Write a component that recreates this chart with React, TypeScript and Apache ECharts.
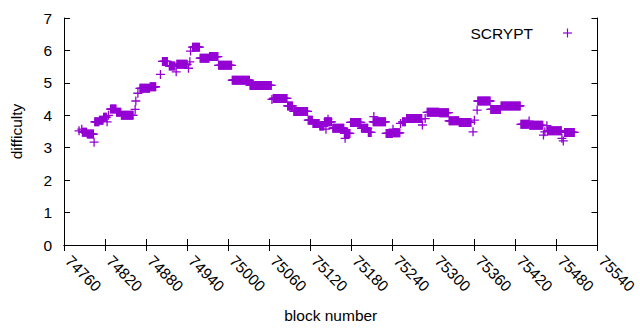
import React, { useEffect, useRef } from "react";
import * as echarts from "echarts";

// Plateaus of constant difficulty: first block, last block, value
const runStart = [
  74782, 74786, 74787, 74794, 74804, 74805, 74812, 74818, 74823, 74825,
  74828, 74837, 74844, 74864, 74865, 74868, 74871, 74886, 74901, 74904,
  74914, 74924, 74925, 74942, 74944, 74945, 74948, 74959, 74973, 74986,
  75006, 75032, 75064, 75066, 75087, 75096, 75117, 75124, 75134, 75141,
  75143, 75146, 75153, 75170, 75171, 75179, 75195, 75205, 75212, 75213,
  75231, 75241, 75242, 75252, 75255, 75261, 75284, 75288, 75291, 75309,
  75323, 75338, 75358, 75360, 75364, 75365, 75384, 75399, 75428, 75440,
  75441, 75461, 75463, 75466, 75467, 75488, 75490, 75492,
];
const runEnd = [
  74782, 74786, 74793, 74803, 74804, 74811, 74817, 74822, 74823, 74825,
  74836, 74843, 74861, 74864, 74865, 74868, 74885, 74894, 74901, 74911,
  74922, 74924, 74940, 74942, 74944, 74945, 74958, 74972, 74985, 75005,
  75031, 75063, 75064, 75086, 75094, 75116, 75123, 75133, 75140, 75151,
  75143, 75146, 75169, 75178, 75171, 75194, 75204, 75209, 75230, 75213,
  75240, 75241, 75251, 75252, 75259, 75283, 75284, 75288, 75308, 75322,
  75337, 75355, 75358, 75360, 75364, 75383, 75398, 75427, 75439, 75440,
  75460, 75461, 75463, 75466, 75487, 75488, 75490, 75506,
];
const runValue = [
  3.52, 3.57, 3.48, 3.42, 3.17, 3.80, 3.85, 3.94, 3.80, 4.00,
  4.19, 4.09, 4.00, 4.18, 4.44, 4.68, 4.83, 4.88, 5.26, 5.66,
  5.52, 5.34, 5.57, 5.45, 5.65, 5.98, 6.10, 5.76, 5.81, 5.54,
  5.08, 4.92, 4.49, 4.52, 4.29, 4.12, 3.85, 3.75, 3.67, 3.80,
  3.57, 3.88, 3.60, 3.44, 3.29, 3.78, 3.60, 3.47, 3.80, 3.96,
  3.44, 3.57, 3.46, 3.75, 3.80, 3.90, 3.70, 3.90, 4.09, 4.08,
  3.83, 3.78, 3.49, 3.85, 4.16, 4.44, 4.18, 4.29, 3.72, 3.82,
  3.69, 3.39, 3.49, 3.68, 3.52, 3.29, 3.21, 3.47,
];

const seriesName = "SCRYPT";
const xMin = 74760;
const xMax = 75540;
const xStep = 60;
const yMin = 0;
const yMax = 7;
const yStep = 1;

const PURPLE = "#9400d3";
const FONT = "'Liberation Sans', Arial, sans-serif";
const FS = 15.5;
const PLUS = "path://M0,3L7,3L7,4L0,4Z M3,0L4,0L4,7L3,7Z";

export default function App() {
  const ref = useRef<HTMLDivElement>(null);

  useEffect(() => {
    if (!ref.current) return;
    const chart = echarts.init(ref.current, null, { renderer: "svg" });

    const points: number[][] = [];
    for (let i = 0; i < runStart.length; i++) {
      for (let b = runStart[i]; b <= runEnd[i]; b++) points.push([b, runValue[i]]);
    }

    const axisLine = { show: true, lineStyle: { color: "#000", width: 1 } };
    const tick = { show: true, inside: true, length: 6, lineStyle: { color: "#000", width: 1 } };

    chart.setOption({
      animation: false,
      grid: { left: 64, right: 31, top: 18, bottom: 85 },
      xAxis: [
        {
          type: "value",
          position: "bottom",
          min: xMin,
          max: xMax,
          interval: xStep,
          axisLine,
          axisTick: tick,
          splitLine: { show: false },
          axisLabel: {
            rotate: -45,
            margin: 9,
            padding: [0, 0, 0, 6],
            color: "#000",
            fontFamily: FONT,
            fontSize: FS,
            showMinLabel: true,
            showMaxLabel: true,
            formatter: (v: number) => String(v),
          },
          name: "block number",
          nameLocation: "middle",
          nameGap: 62,
          nameTextStyle: { color: "#000", fontFamily: FONT, fontSize: FS },
        },
        {
          type: "value",
          position: "top",
          min: xMin,
          max: xMax,
          interval: xStep,
          axisLine,
          axisTick: tick,
          axisLabel: { show: false },
          splitLine: { show: false },
        },
      ],
      yAxis: [
        {
          type: "value",
          position: "left",
          min: yMin,
          max: yMax,
          interval: yStep,
          axisLine,
          axisTick: tick,
          splitLine: { show: false },
          axisLabel: { margin: 12, color: "#000", fontFamily: FONT, fontSize: FS },
          name: "difficulty",
          nameLocation: "middle",
          nameGap: 40,
          nameTextStyle: { color: "#000", fontFamily: FONT, fontSize: FS },
        },
        {
          type: "value",
          position: "right",
          min: yMin,
          max: yMax,
          interval: yStep,
          axisLine,
          axisTick: tick,
          axisLabel: { show: false },
          splitLine: { show: false },
        },
      ],
      graphic: [
        {
          type: "text",
          x: 533,
          y: 33,
          style: {
            text: seriesName,
            fill: "#000",
            font: `${FS}px ${FONT}`,
            textAlign: "right",
            textVerticalAlign: "middle",
          },
        },
        { type: "line", shape: { x1: 563, y1: 33, x2: 572, y2: 33 }, style: { stroke: PURPLE, lineWidth: 1.2 } },
        { type: "line", shape: { x1: 567.5, y1: 28.5, x2: 567.5, y2: 37.5 }, style: { stroke: PURPLE, lineWidth: 1.2 } },
      ],
      series: [
        {
          name: seriesName,
          type: "scatter",
          xAxisIndex: 0,
          yAxisIndex: 0,
          symbol: PLUS,
          symbolSize: 9,
          itemStyle: { color: PURPLE, opacity: 1 },
          emphasis: { disabled: true },
          data: points,
        },
      ],
    });

    return () => chart.dispose();
  }, []);

  return (
    <div
      ref={ref}
      style={{ position: "absolute", left: 0, top: 0, width: 640, height: 330 }}
    />
  );
}
